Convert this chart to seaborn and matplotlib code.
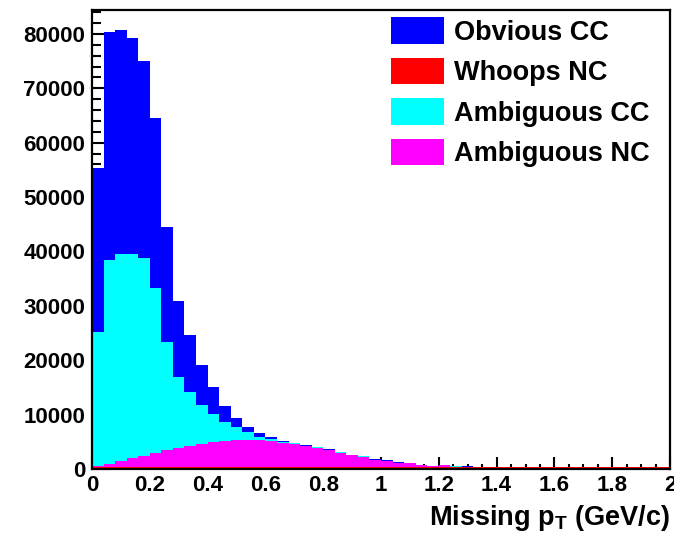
import numpy as np
import pandas as pd
import matplotlib
matplotlib.use("Agg")
import matplotlib.pyplot as plt
from matplotlib.ticker import MultipleLocator, FuncFormatter
from matplotlib.patches import Patch
import seaborn as sns

# ---------------- data (events per 0.04 GeV/c bin, 0 .. 2 GeV/c) ----------------
bin_width = 0.04
pt_centers = np.round(np.arange(0.02, 2.0, bin_width), 2)  # 50 bin centres

obvious_cc = [30100, 41800, 41100, 39700, 36300, 31300, 21000, 13800, 10400, 7300,
              4800, 3000, 1600, 1000, 600, 300, 300, 150, 150, 70,
              70, 50, 30, 20, 30, 20, 10, 10, 20, 10,
              10, 10, 10, 10, 10, 5, 5, 5, 5, 5,
              5, 5, 5, 5, 5, 5, 5, 5, 5, 5]
ambiguous_cc = [24750, 37600, 38100, 37650, 36300, 30200, 19900, 13100, 9950, 7250,
                5300, 3450, 2400, 1450, 620, 400, 180, 170, 70, 60,
                90, 50, 50, 40, 70, 30, 30, 30, 25, 30,
                10, 20, 10, 10, 20, 5, 5, 5, 5, 5,
                5, 5, 5, 5, 5, 5, 5, 5, 5, 5]
ambiguous_nc = [150, 550, 1150, 1600, 2050, 2650, 3150, 3550, 3900, 4200,
                4550, 4800, 4950, 5000, 4980, 4750, 4370, 4180, 3880, 3570,
                3140, 2650, 2220, 1910, 1300, 1180, 810, 690, 385, 230,
                350, 100, 90, 70, 0, 0, 0, 0, 0, 0,
                0, 0, 0, 0, 0, 0, 0, 0, 0, 0]
whoops_nc = [370, 370, 370, 360, 360, 360, 360, 350, 350, 350,
             350, 350, 350, 350, 350, 350, 350, 350, 350, 350,
             350, 350, 350, 350, 350, 350, 350, 350, 350, 350,
             350, 350, 350, 350, 350, 350, 350, 350, 350, 350,
             350, 350, 350, 350, 350, 350, 350, 350, 350, 350]

legend_order = ["Obvious CC", "Whoops NC", "Ambiguous CC", "Ambiguous NC"]
stack_order = ["Obvious CC", "Ambiguous CC", "Ambiguous NC", "Whoops NC"]  # top -> bottom
colors = {"Obvious CC": "#0000ff", "Whoops NC": "#ff0000",
          "Ambiguous CC": "#00ffff", "Ambiguous NC": "#ff00ff"}

series_values = {"Obvious CC": obvious_cc, "Whoops NC": whoops_nc,
                 "Ambiguous CC": ambiguous_cc, "Ambiguous NC": ambiguous_nc}
frames = [pd.DataFrame({"pt": pt_centers, "count": vals, "series": name})
          for name, vals in series_values.items()]
df = pd.concat(frames, ignore_index=True)

# ---------------- style ----------------
sns.set_style("ticks")
plt.rcParams["font.family"] = ["Liberation Sans", "DejaVu Sans"]
plt.rcParams["font.weight"] = "bold"
plt.rcParams["text.color"] = "black"
plt.rcParams["axes.labelcolor"] = "black"
plt.rcParams["xtick.color"] = "black"
plt.rcParams["ytick.color"] = "black"
plt.rcParams["mathtext.fontset"] = "custom"
plt.rcParams["mathtext.rm"] = "Liberation Sans:bold"
plt.rcParams["mathtext.bf"] = "Liberation Sans:bold"

fig = plt.figure(figsize=(6.74, 5.42), dpi=100)
ax = fig.add_axes([92 / 674, 1 - 469 / 542, (670 - 92) / 674, (469 - 10) / 542])

sns.histplot(data=df, x="pt", weights="count", hue="series", hue_order=stack_order,
             palette=colors, multiple="stack", element="step", fill=True,
             binwidth=bin_width, binrange=(0, 2), alpha=1, linewidth=0,
             legend=False, ax=ax)

ax.set_xlim(0, 2)
ax.set_ylim(0, 84400)
ax.set_ylabel("")
ax.set_xlabel(r"Missing p$_{\mathbf{T}}$ (GeV/c)", fontsize=19.5, fontweight="bold",
              loc="right", color="black")
ax.xaxis.set_label_coords(1.0, -0.075)

ax.xaxis.set_major_locator(MultipleLocator(0.2))
ax.xaxis.set_minor_locator(MultipleLocator(0.05))
ax.xaxis.set_major_formatter(FuncFormatter(lambda v, p: "%g" % round(v, 2)))
ax.yaxis.set_major_locator(MultipleLocator(10000))
ax.yaxis.set_minor_locator(MultipleLocator(2000))

ax.tick_params(axis="both", which="both", direction="in", top=False, right=False,
               labelsize=16, color="black", labelcolor="black", width=1.5)
ax.tick_params(axis="x", which="major", length=8.6, pad=4)
ax.tick_params(axis="x", which="minor", length=3.6)
ax.tick_params(axis="y", which="major", length=13, pad=5)
ax.tick_params(axis="y", which="minor", length=6.5)
for lab in ax.get_xticklabels() + ax.get_yticklabels():
    lab.set_fontweight("bold")

for s in ax.spines.values():
    s.set_visible(True)
    s.set_linewidth(1.6)
    s.set_color("black")

handles = [Patch(facecolor=colors[n], edgecolor="none", label=n) for n in legend_order]
leg = ax.legend(handles=handles, loc="upper left",
                bbox_to_anchor=(391 / 674, 1 - 17 / 542), bbox_transform=fig.transFigure,
                frameon=False, borderpad=0, borderaxespad=0,
                prop={"family": "Liberation Sans", "weight": "bold", "size": 19.5},
                handlelength=1.97, handleheight=1.14, handletextpad=0.35,
                labelspacing=0.445)
for t in leg.get_texts():
    t.set_color("black")

fig.savefig("out.png", dpi=100)
